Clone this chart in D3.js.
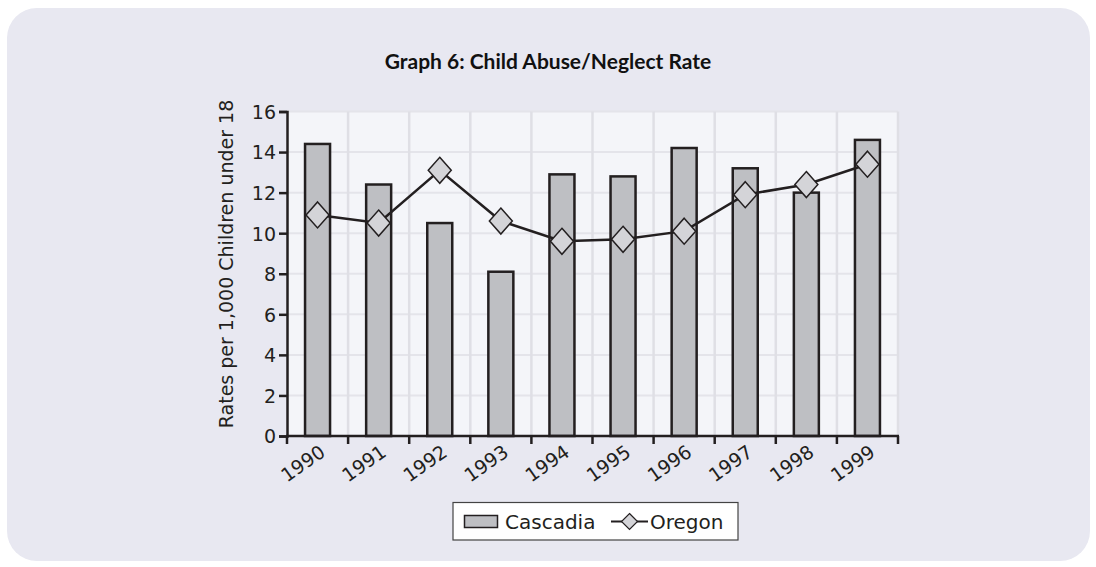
<!DOCTYPE html>
<html><head><meta charset="utf-8">
<script src="https://cdn.jsdelivr.net/npm/d3@7"></script>
<style>
html,body{margin:0;padding:0;background:#fff;}
svg{display:block;font-family:"DejaVu Sans",sans-serif;}
</style></head>
<body>
<svg id="chart" width="1096" height="567"></svg>
<script>
const years = ["1990","1991","1992","1993","1994","1995","1996","1997","1998","1999"];
const cascadia = [14.4, 12.4, 10.5, 8.1, 12.9, 12.8, 14.2, 13.2, 12.0, 14.6];
const oregon = [10.9, 10.5, 13.1, 10.6, 9.6, 9.7, 10.1, 11.9, 12.4, 13.4];
const yTicks = [0, 2, 4, 6, 8, 10, 12, 14, 16];

const svg = d3.select("#chart");
const W = 1096, H = 567;
const m = {left: 287, right: 898, top: 111.5, bottom: 436};
const ink = "#231f20";

svg.append("rect").attr("x", 7).attr("y", 8).attr("width", W - 13).attr("height", H - 14)
  .attr("rx", 30).attr("ry", 30).attr("fill", "#e8e8f1");

const x = d3.scaleBand().domain(years).range([m.left, m.right]);
const y = d3.scaleLinear().domain([0, 16]).range([m.bottom, m.top]);

// plot background
svg.append("rect").attr("x", m.left).attr("y", m.top)
  .attr("width", m.right - m.left).attr("height", m.bottom - m.top).attr("fill", "#f4f5f9");

// grid
const g = svg.append("g");
g.selectAll(".hg").data(yTicks.slice(1)).join("line")
  .attr("x1", m.left).attr("x2", m.right).attr("y1", d => y(d)).attr("y2", d => y(d))
  .attr("stroke", "#e4e4ea").attr("stroke-width", 2);
const vb = years.slice(1).map(d => x(d)).concat([m.right]);
g.selectAll(".vg").data(vb).join("line")
  .attr("x1", d => d).attr("x2", d => d)
  .attr("y1", m.top).attr("y2", m.bottom)
  .attr("stroke", "#dfdfe5").attr("stroke-width", 2.5);

// bars
const bw = 25;
svg.selectAll(".bar").data(years).join("rect")
  .attr("x", d => x(d) + x.bandwidth() / 2 - bw / 2)
  .attr("width", bw)
  .attr("y", (d, i) => y(cascadia[i]))
  .attr("height", (d, i) => y(0) - y(cascadia[i]))
  .attr("fill", "#bebfc3").attr("stroke", ink).attr("stroke-width", 2.5);

// axes
const yAxis = d3.axisLeft(y).tickValues(yTicks).tickSize(8).tickPadding(3).tickFormat(d3.format("d"));
const ya = svg.append("g").attr("transform", `translate(${m.left},0)`).call(yAxis);
ya.select(".domain").attr("stroke", ink).attr("stroke-width", 2.5);
ya.selectAll(".tick line").attr("stroke", ink).attr("stroke-width", 2.5);
ya.selectAll(".tick text").attr("font-size", 19).attr("fill", ink)
  .attr("font-family", "DejaVu Sans, sans-serif").attr("dy", "0.36em");

const xa = svg.append("g").attr("transform", `translate(0,${m.bottom})`);
xa.append("line").attr("x1", m.left - 1).attr("x2", m.right + 1).attr("stroke", ink).attr("stroke-width", 2.5);
const bounds = years.map(d => x(d)).concat([m.right]);
xa.selectAll(".xt").data(bounds).join("line")
  .attr("x1", d => d).attr("x2", d => d).attr("y1", 0).attr("y2", 8)
  .attr("stroke", ink).attr("stroke-width", 2.5);
xa.selectAll(".xl").data(years).join("text")
  .attr("transform", d => `translate(${x(d) + x.bandwidth() / 2 + 9},${19}) rotate(-35)`)
  .attr("text-anchor", "end")
  .attr("font-size", 19).attr("fill", ink)
  .text(d => d);

// line
const line = d3.line().x((d, i) => x(years[i]) + x.bandwidth() / 2).y(d => y(d));
svg.append("path").datum(oregon).attr("d", line)
  .attr("fill", "none").attr("stroke", ink).attr("stroke-width", 2.5);

const diamond = (cx, cy, hw, hh) => `M${cx},${cy - hh}L${cx + hw},${cy}L${cx},${cy + hh}L${cx - hw},${cy}Z`;
svg.selectAll(".dm").data(oregon).join("path")
  .attr("d", (d, i) => diamond(x(years[i]) + x.bandwidth() / 2, y(d), 11.5, 13))
  .attr("fill", "#d4d4d8").attr("stroke", ink).attr("stroke-width", 1.5);

// title
svg.append("text").attr("x", 548).attr("y", 69).attr("text-anchor", "middle")
  .attr("font-family", "Lato, sans-serif")
  .attr("font-size", 21).attr("font-weight", "bold").attr("fill", "#111")
  .text("Graph 6: Child Abuse/Neglect Rate");

// y label
svg.append("text").attr("transform", `translate(233,264) rotate(-90)`)
  .attr("text-anchor", "middle").attr("font-size", 19).attr("fill", ink)
  .text("Rates per 1,000 Children under 18");

// legend
const lg = svg.append("g");
lg.append("rect").attr("x", 453).attr("y", 502.5).attr("width", 285).attr("height", 37.5)
  .attr("fill", "#fff").attr("stroke", "#444").attr("stroke-width", 1.2);
lg.append("rect").attr("x", 464.5).attr("y", 515.5).attr("width", 33).attr("height", 12)
  .attr("fill", "#bebfc3").attr("stroke", ink).attr("stroke-width", 1.5);
lg.append("text").attr("x", 505).attr("y", 529).attr("font-size", 20).attr("fill", ink).text("Cascadia");
lg.append("line").attr("x1", 611).attr("x2", 648).attr("y1", 521.5).attr("y2", 521.5)
  .attr("stroke", ink).attr("stroke-width", 2);
lg.append("path").attr("d", diamond(629.5, 521.5, 8, 8)).attr("fill", "#d4d4d8").attr("stroke", ink).attr("stroke-width", 1.2);
lg.append("text").attr("x", 650).attr("y", 529).attr("font-size", 20).attr("fill", ink).text("Oregon");
</script>
</body></html>
